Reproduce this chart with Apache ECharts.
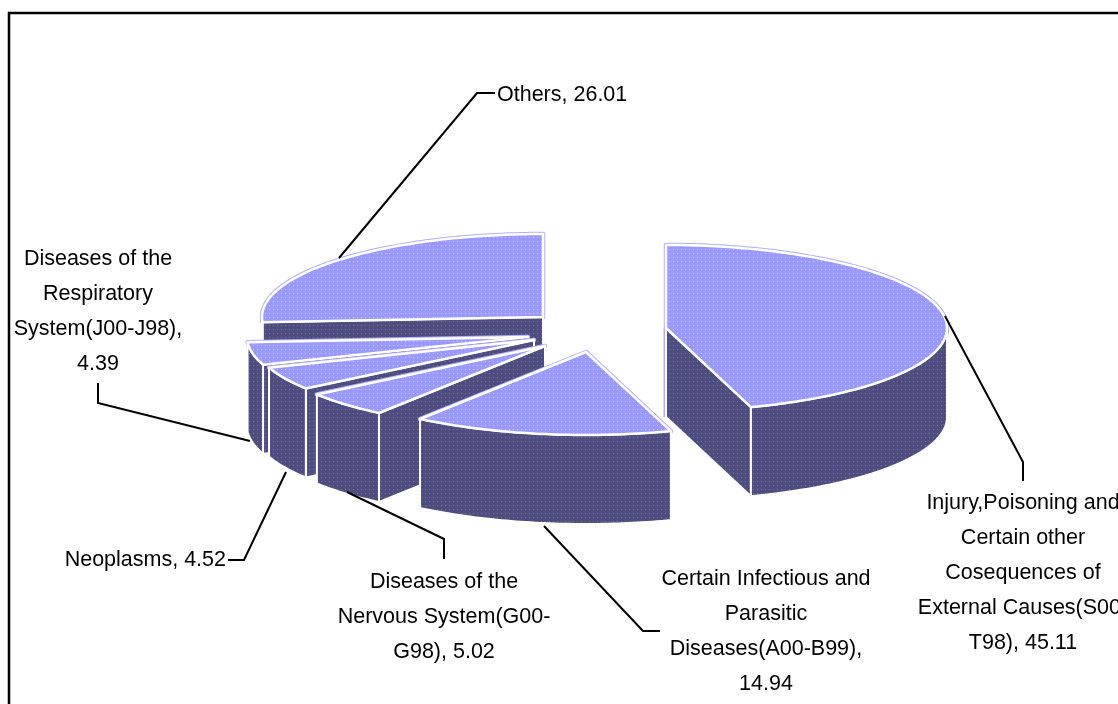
<!DOCTYPE html>
<html>
<head>
<meta charset="utf-8">
<style>html,body{margin:0;padding:0;background:#fff}#box{width:1118px;height:704px}</style>
<script src="https://cdn.jsdelivr.net/npm/echarts@6/dist/echarts.min.js"></script>
</head>
<body>
<div id="box"></div>
<script>
// clockwise from 12 o'clock
var categories = [
  "Injury,Poisoning and\nCertain other\nCosequences of\nExternal Causes(S00-\nT98)",
  "Certain Infectious and\nParasitic\nDiseases(A00-B99),",
  "Diseases of the\nNervous System(G00-\nG98)",
  "Neoplasms",
  "Diseases of the\nRespiratory\nSystem(J00-J98),",
  "Others"
];
var values = [45.11, 14.94, 5.02, 4.52, 4.39, 26.01];
var drawOrder = [0, 5, 4, 3, 2, 1]; // back slices first

// pie layout, one apex per exploded slice
var rx = 281, ry = 83, depth = 89;
var apexes = [[666, 328], [586, 352], [545, 346], [534, 340], [528, 337], [543, 317]];
// label anchor + leader line of each slice
var labelPos = [[1023, 486, "center"], [766, 562, "center"], [444, 565, "center"], [226, 543, "right"], [98, 242, "center"], [497, 78, "left"]];
var leaders = [
  [[945, 316], [1023, 462], [1023, 481]],
  [[544, 526], [643, 631], [660, 631]],
  [[347, 492], [444, 539], [444, 559]],
  [[286, 472], [244, 560], [228, 560]],
  [[250, 441], [98, 403], [98, 383]],
  [[339, 258], [477, 93], [495, 93]]
];

function dots(bg, dot) {
  var c = document.createElement("canvas");
  c.width = 4; c.height = 4;
  var g = c.getContext("2d");
  g.fillStyle = bg;
  g.fillRect(0, 0, 4, 4);
  g.fillStyle = dot;
  g.fillRect(1, 1, 1, 1);
  return { image: c, repeat: "repeat" };
}
var topFill = dots("#9999ff", "#c8c8ff");
var wallFill = dots("#4d4d80", "#77778f");

var total = values.reduce(function (a, b) { return a + b; }, 0);
var starts = [];
values.reduce(function (sum, v, i) { starts[i] = sum; return sum + v; }, 0);

function pt(apex, deg, dy) {
  var r = deg * Math.PI / 180;
  return [apex[0] + rx * Math.sin(r), apex[1] - ry * Math.cos(r) + (dy || 0)];
}
function arc(apex, a, b, dy) {
  var out = [];
  for (var d = a; d < b; d += 1) out.push(pt(apex, d, dy));
  out.push(pt(apex, b, dy));
  return out;
}
function poly(points, fill, stroke, w) {
  return { type: "polygon", shape: { points: points }, style: { fill: fill, stroke: stroke, lineWidth: w, lineJoin: "round" } };
}
function line(points, color, w) {
  return { type: "polyline", shape: { points: points }, style: { fill: null, stroke: color, lineWidth: w }, silent: true };
}
function cutFace(apex, deg) {
  var p = pt(apex, deg);
  return poly([apex, p, [p[0], p[1] + depth], [apex[0], apex[1] + depth]], wallFill, "#fff", 2);
}

function renderSlice(params, api) {
  var i = api.value(0);
  var a = starts[i] / total * 360, b = (starts[i] + api.value(1)) / total * 360;
  var apex = apexes[i], kids = [];
  var rim = arc(apex, a, b);
  // thin lilac halo behind the slice
  kids.push(poly([apex].concat(rim), "none", "#b0b0ff", 4.5));
  kids.push(line([[apex[0] - 1, apex[1]], [apex[0] - 1, apex[1] + depth]], "#b0b0ff", 3));
  // cut faces that turn toward the viewer
  if (a > 180) kids.push(cutFace(apex, a));
  if (b < 180) kids.push(cutFace(apex, b));
  // curved outer wall, front half only
  var from = Math.max(a, 90), to = Math.min(b, 270);
  if (from < to) {
    var up = arc(apex, from, to), down = arc(apex, from, to, depth).reverse();
    kids.push(poly(up.concat(down), wallFill, "#fff", 2));
  }
  kids.push(poly([apex].concat(rim), topFill, "#fff", 2.5));
  kids.push(line(leaders[i], "#000", 2));
  var lp = labelPos[i];
  kids.push({
    type: "text",
    style: {
      text: categories[i] + (i === 1 || i === 4 ? "\n" : ", ") + api.value(1).toFixed(2),
      x: lp[0], y: lp[1], align: lp[2], verticalAlign: "top",
      font: "21.5px 'Liberation Sans', Arial, sans-serif", fill: "#000", lineHeight: 35
    }
  });
  return { type: "group", children: kids };
}

var chart = echarts.init(document.getElementById("box"), null, { renderer: "canvas" });
chart.setOption({
  animation: false,
  backgroundColor: "#fff",
  graphic: [{
    type: "rect", silent: true,
    shape: { x: 9, y: 13, width: 1200, height: 800 },
    style: { fill: "none", stroke: "#000", lineWidth: 2.5 }
  }],
  series: [{
    type: "custom",
    coordinateSystem: "none",
    renderItem: renderSlice,
    silent: true,
    z: 5,
    data: drawOrder.map(function (i) { return [i, values[i]]; })
  }]
});
</script>
</body>
</html>
